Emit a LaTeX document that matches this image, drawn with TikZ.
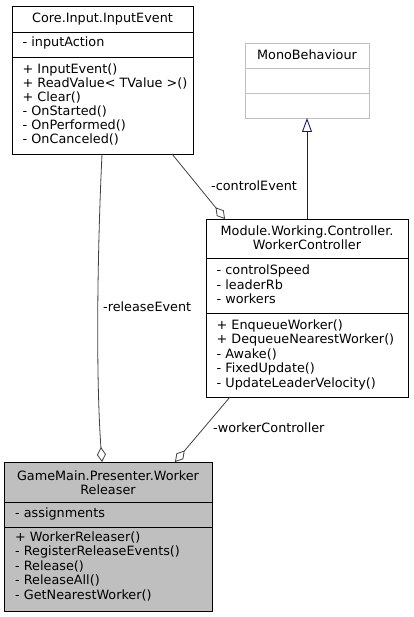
\documentclass[tikz,border=0pt]{standalone}
\usepackage{fontspec}
\setmainfont{DejaVu Sans}
\usetikzlibrary{arrows.meta}
\definecolor{edgegray}{HTML}{404040}
\definecolor{lightborder}{HTML}{BFBFBF}
\definecolor{selfill}{HTML}{BFBFBF}
\definecolor{inhblue}{HTML}{191970}
\begin{document}
\begin{tikzpicture}[x=1pt,y=-1pt,
  classbox/.style={draw=black, line width=0.9pt, inner sep=0pt, outer sep=0pt, anchor=north west},
  txt/.style={font=\fontsize{12.8}{14}\selectfont, inner sep=0pt, anchor=base west},
  ttl/.style={font=\fontsize{12.8}{14}\selectfont, inner sep=0pt, anchor=base},
  agg/.style={draw=edgegray, line width=0.8pt, -{Diamond[open, length=15pt, width=9pt, line width=0.8pt]}},
  inh/.style={draw=inhblue, line width=0.9pt, -{Triangle[open, length=14pt, width=10pt, line width=0.9pt]}},
  lbl/.style={font=\fontsize{12.8}{14}\selectfont, inner sep=0pt, anchor=base west}]
\useasboundingbox (0,0) rectangle (413,617);
\fill[white] (0,0) rectangle (413,617);

% Core.Input.InputEvent
\node[classbox, minimum width=181pt, minimum height=148pt] (ie) at (12,6) {};
\draw[line width=0.9pt] (12,32) -- (193,32);
\draw[line width=0.9pt] (12,57) -- (193,57);
\node[ttl] (ie-t) at (102.5,23) {Core.Input.InputEvent};
\node[txt] (ie-a1) at (22.5,47) {- inputAction};
\foreach \t [count=\i] in {{+ InputEvent()},{+ ReadValue< TValue >()},{+ Clear()},{- OnStarted()},{- OnPerformed()},{- OnCanceled()}}
  \node[txt] (ie-m\i) at (22.5,{73.5+14*(\i-1)}) {\t};

% MonoBehaviour
\node[classbox, draw=lightborder, minimum width=124pt, minimum height=75pt] (mb) at (245,43) {};
\draw[lightborder, line width=0.9pt] (245,68) -- (369,68);
\draw[lightborder, line width=0.9pt] (245,93) -- (369,93);
\node[ttl] (mb-t) at (307,59.5) {MonoBehaviour};

% Module.Working.Controller.WorkerController
\node[classbox, minimum width=202pt, minimum height=178pt] (wc) at (206,219) {};
\draw[line width=0.9pt] (206,258) -- (408,258);
\draw[line width=0.9pt] (206,313) -- (408,313);
\node[ttl] (wc-t1) at (307,235.5) {Module.Working.Controller.};
\node[ttl] (wc-t2) at (307,249.5) {WorkerController};
\foreach \t [count=\i] in {{- controlSpeed},{- leaderRb},{- workers}}
  \node[txt] (wc-a\i) at (216.5,{274.5+14.5*(\i-1)}) {\t};
\foreach \t [count=\i] in {{+ EnqueueWorker()},{+ DequeueNearestWorker()},{- Awake()},{- FixedUpdate()},{- UpdateLeaderVelocity()}}
  \node[txt] (wc-m\i) at (216.5,{329+14.5*(\i-1)}) {\t};

% GameMain.Presenter.WorkerReleaser
\node[classbox, fill=selfill, minimum width=208pt, minimum height=149pt] (wr) at (4,462) {};
\draw[line width=0.9pt] (4,502) -- (212,502);
\draw[line width=0.9pt] (4,527) -- (212,527);
\node[ttl] (wr-t1) at (108,480) {GameMain.Presenter.Worker};
\node[ttl] (wr-t2) at (108,494.5) {Releaser};
\node[txt] (wr-a1) at (15,517) {- assignments};
\foreach \t [count=\i] in {{+ WorkerReleaser()},{- RegisterReleaseEvents()},{- Release()},{- ReleaseAll()},{- GetNearestWorker()}}
  \node[txt] (wr-m\i) at (15,{541+14.5*(\i-1)}) {\t};

% connectors
\draw[inh] (wc.north) -- (mb.south);
\draw[agg] ([xshift=-0.5pt]ie.south) .. controls (97,260) and (96,380) .. ([xshift=-6pt]wr.north);
\draw[agg] ([xshift=160pt]ie.south west) -- ([xshift=19pt]wc.north west);
\draw[agg] ([xshift=24pt]wc.south west) -- ([xshift=171pt]wr.north west);

% labels
\node[lbl] (l-ce) at (211,191) {-controlEvent};
\node[lbl] (l-re) at (103,311) {-releaseEvent};
\node[lbl] (l-wc) at (213,432) {-workerController};
\end{tikzpicture}
\end{document}
